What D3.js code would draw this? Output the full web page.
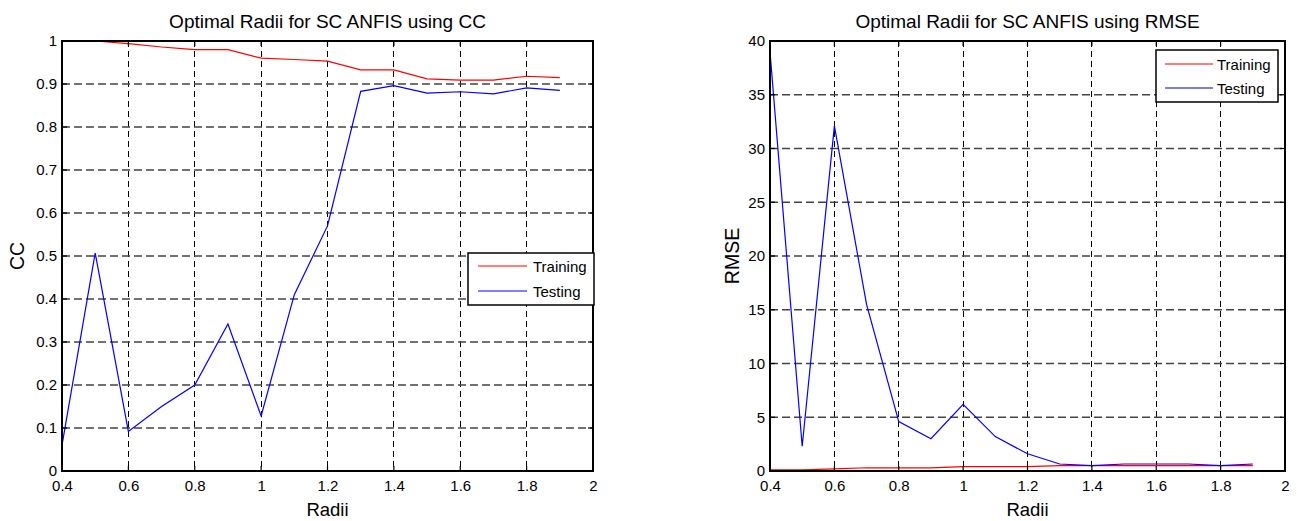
<!DOCTYPE html>
<html>
<head>
<meta charset="utf-8">
<script src="https://cdn.jsdelivr.net/npm/d3@7"></script>
<style>
  html, body { margin: 0; padding: 0; background: #fff; }
  svg { display: block; font-family: Arial, "Liberation Sans", sans-serif; }
</style>
</head>
<body>
<svg id="chart" width="1297" height="521"></svg>
<script>
// ---- Data ----
const radii = [0.4, 0.5, 0.6, 0.7, 0.8, 0.9, 1.0, 1.1, 1.2, 1.3, 1.4, 1.5, 1.6, 1.7, 1.8, 1.9];

const ccTraining = [1.0, 1.0, 0.994, 0.986, 0.980, 0.980, 0.960, 0.957, 0.953, 0.933, 0.933, 0.912, 0.909, 0.909, 0.918, 0.915];
const ccTesting  = [0.06, 0.507, 0.092, 0.15, 0.20, 0.342, 0.128, 0.41, 0.57, 0.883, 0.896, 0.879, 0.882, 0.877, 0.891, 0.885];

const rmseTraining = [0.1, 0.1, 0.2, 0.3, 0.3, 0.3, 0.4, 0.4, 0.4, 0.5, 0.5, 0.5, 0.5, 0.5, 0.5, 0.5];
const rmseTesting  = [39.0, 2.3, 32.1, 15.5, 4.6, 3.0, 6.2, 3.2, 1.6, 0.65, 0.5, 0.65, 0.65, 0.65, 0.5, 0.65];

const xTicks = [0.4, 0.6, 0.8, 1.0, 1.2, 1.4, 1.6, 1.8, 2.0];
const xTickLabels = ["0.4", "0.6", "0.8", "1", "1.2", "1.4", "1.6", "1.8", "2"];
const ccTicks = [0, 0.1, 0.2, 0.3, 0.4, 0.5, 0.6, 0.7, 0.8, 0.9, 1.0];
const ccTickLabels = ["0", "0.1", "0.2", "0.3", "0.4", "0.5", "0.6", "0.7", "0.8", "0.9", "1"];
const rmseTicks = [0, 5, 10, 15, 20, 25, 30, 35, 40];
const rmseTickLabels = ["0", "5", "10", "15", "20", "25", "30", "35", "40"];

const seriesNames = ["Training", "Testing"];
const titles = ["Optimal Radii for SC ANFIS using CC", "Optimal Radii for SC ANFIS using RMSE"];
const xLabel = "Radii";
const yLabels = ["CC", "RMSE"];

// ---- Drawing ----
const svg = d3.select("#chart");

function panel(cfg) {
  const { left, right, top, bottom, yDomain, yTicks, yTickLabels, series, title, yLabel, legend } = cfg;
  const g = svg.append("g");
  const x = d3.scaleLinear().domain([0.4, 2.0]).range([left, right]);
  const y = d3.scaleLinear().domain(yDomain).range([bottom, top]);

  // grid
  g.append("g").selectAll("line.vg")
    .data(xTicks.slice(1, -1)).join("line")
    .attr("x1", d => x(d)).attr("x2", d => x(d))
    .attr("y1", top).attr("y2", bottom)
    .attr("stroke", "#000").attr("stroke-width", 1.2)
    .attr("stroke-dasharray", "6,4").attr("shape-rendering", "crispEdges");
  g.append("g").selectAll("line.hg")
    .data(yTicks.slice(1, -1)).join("line")
    .attr("x1", left).attr("x2", right)
    .attr("y1", d => y(d)).attr("y2", d => y(d))
    .attr("stroke", "#444").attr("stroke-width", 1.5)
    .attr("stroke-dasharray", "8,4");

  // data lines
  const line = d3.line().x((d, i) => x(radii[i])).y(d => y(d));
  series.forEach(s => {
    g.append("path").datum(s.values)
      .attr("d", line).attr("fill", "none")
      .attr("stroke", s.color).attr("stroke-width", 1.2);
  });

  // ticks (inward, all four sides)
  const tl = 5;
  xTicks.forEach(t => {
    g.append("line").attr("x1", x(t)).attr("x2", x(t)).attr("y1", bottom).attr("y2", bottom - tl)
      .attr("stroke", "#000").attr("stroke-width", 1.2);
    g.append("line").attr("x1", x(t)).attr("x2", x(t)).attr("y1", top).attr("y2", top + tl)
      .attr("stroke", "#000").attr("stroke-width", 1.2);
  });
  yTicks.forEach(t => {
    g.append("line").attr("x1", left).attr("x2", left + tl).attr("y1", y(t)).attr("y2", y(t))
      .attr("stroke", "#000").attr("stroke-width", 1.2);
    g.append("line").attr("x1", right).attr("x2", right - tl).attr("y1", y(t)).attr("y2", y(t))
      .attr("stroke", "#000").attr("stroke-width", 1.2);
  });

  // axes with d3 for labels
  const xAxis = d3.axisBottom(x).tickValues(xTicks).tickFormat((d, i) => xTickLabels[i]).tickSize(0).tickPadding(9);
  const gx = g.append("g").attr("transform", `translate(0,${bottom})`).call(xAxis);
  gx.select(".domain").remove();
  gx.selectAll("text").attr("font-size", 15).attr("fill", "#000").attr("font-family", "Arial, 'Liberation Sans', sans-serif");

  const yAxis = d3.axisLeft(y).tickValues(yTicks).tickFormat((d, i) => yTickLabels[i]).tickSize(0).tickPadding(5);
  const gy = g.append("g").attr("transform", `translate(${left},0)`).call(yAxis);
  gy.select(".domain").remove();
  gy.selectAll("text").attr("font-size", 15).attr("fill", "#000").attr("font-family", "Arial, 'Liberation Sans', sans-serif");

  // frame
  g.append("rect").attr("x", left).attr("y", top).attr("width", right - left).attr("height", bottom - top)
    .attr("fill", "none").attr("stroke", "#000").attr("stroke-width", 2);

  // title
  g.append("text").attr("x", (left + right) / 2).attr("y", 28).attr("text-anchor", "middle")
    .attr("font-size", 19).attr("fill", "#000").text(title);
  // x label
  g.append("text").attr("x", (left + right) / 2).attr("y", 516).attr("text-anchor", "middle")
    .attr("font-size", 18.5).attr("fill", "#000").text(xLabel);
  // y label
  g.append("text").attr("transform", `translate(${cfg.yLabelX},${(top + bottom) / 2}) rotate(-90)`)
    .attr("text-anchor", "middle").attr("font-size", 19.5).attr("fill", "#000").text(yLabel);

  // legend
  const lg = g.append("g");
  lg.append("rect").attr("x", legend.x).attr("y", legend.y).attr("width", legend.w).attr("height", legend.h)
    .attr("fill", "#fff").attr("stroke", "#000").attr("stroke-width", 1.5);
  series.forEach((s, i) => {
    const ly = legend.y + legend.rowTop + i * legend.rowGap;
    lg.append("line").attr("x1", legend.x + legend.lx1).attr("x2", legend.x + legend.lx2)
      .attr("y1", ly).attr("y2", ly).attr("stroke", s.legendColor || s.color).attr("stroke-width", 1.2);
    lg.append("text").attr("x", legend.x + legend.tx).attr("y", ly + 5.5)
      .attr("font-size", 15).attr("fill", "#000").text(seriesNames[i]);
  });
}

panel({
  left: 62, right: 593, top: 41, bottom: 471,
  yDomain: [0, 1], yTicks: ccTicks, yTickLabels: ccTickLabels,
  series: [{ values: ccTraining, color: "#ff0000" }, { values: ccTesting, color: "#0000ff" }],
  title: titles[0], yLabel: yLabels[0], yLabelX: 24,
  legend: { x: 468, y: 253, w: 126, h: 52, rowTop: 13, rowGap: 25, lx1: 10, lx2: 59, tx: 65 }
});

panel({
  left: 770, right: 1285, top: 41, bottom: 471,
  yDomain: [0, 40], yTicks: rmseTicks, yTickLabels: rmseTickLabels,
  series: [{ values: rmseTraining, color: "#ff0000" }, { values: rmseTesting, color: "#0000ff", legendColor: "#0000b0" }],
  title: titles[1], yLabel: yLabels[1], yLabelX: 739,
  legend: { x: 1156, y: 50, w: 122, h: 52, rowTop: 14, rowGap: 24, lx1: 9, lx2: 57, tx: 61 }
});
</script>
</body>
</html>
